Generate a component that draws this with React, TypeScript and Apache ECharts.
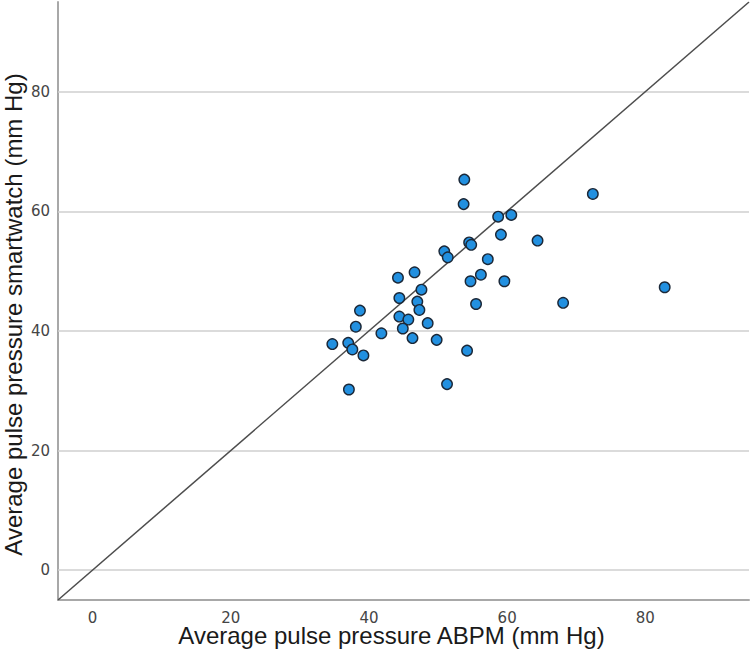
import React, { useEffect, useRef } from "react";
import * as echarts from "echarts";

const xTicks = [0, 20, 40, 60, 80];
const yTicks = [0, 20, 40, 60, 80];
const lineEnds = [-5, 95];

const abpm = [
  53.8, 53.7, 58.7, 60.6, 59.1, 64.4, 54.5, 54.8, 50.9, 51.4, 57.2, 56.2, 54.7,
  59.6, 44.2, 46.6, 47.6, 44.4, 47.0, 47.3, 55.5, 68.1, 38.7, 44.4, 45.7, 48.5,
  38.1, 41.8, 44.9, 46.3, 49.8, 34.7, 37.0, 37.6, 39.2, 54.2, 37.1, 51.3, 72.4,
  82.8,
];
const smartwatch = [
  65.3, 61.2, 59.1, 59.4, 56.1, 55.1, 54.8, 54.4, 53.3, 52.3, 52.0, 49.4, 48.3,
  48.3, 48.9, 49.8, 46.9, 45.5, 44.9, 43.5, 44.5, 44.7, 43.4, 42.4, 41.9, 41.3,
  40.7, 39.6, 40.4, 38.8, 38.5, 37.8, 38.0, 36.9, 35.9, 36.7, 30.2, 31.1, 62.9,
  47.3,
];

const xName = "Average pulse pressure ABPM (mm Hg)";
const yName = "Average pulse pressure smartwatch (mm Hg)";

export default function App() {
  const ref = useRef<HTMLDivElement>(null);
  useEffect(() => {
    if (!ref.current) return;
    const chart = echarts.init(ref.current, null, { renderer: "svg" });
    const tickLabel = {
      color: "#454545",
      fontSize: 15,
      lineHeight: 12,
      fontFamily: "DejaVu Sans",
    };
    const nameStyle = {
      fontSize: 24,
      lineHeight: 20,
      fontFamily: "Liberation Sans",
      color: "#1a1a1a",
    };
    chart.setOption({
      animation: false,
      backgroundColor: "#ffffff",
      grid: {
        left: 58,
        right: 3,
        top: 2,
        bottom: 52,
        containLabel: false,
        outerBoundsMode: "none",
      },
      xAxis: {
        type: "value",
        min: -5,
        max: 95,
        axisLine: { onZero: false, lineStyle: { color: "#a8a8a8", width: 2 } },
        axisTick: { show: false },
        splitLine: { show: false },
        axisLabel: { ...tickLabel, customValues: xTicks, margin: 12 },
        name: xName,
        nameLocation: "middle",
        nameGap: 25,
        nameMoveOverlap: false,
        nameTextStyle: { ...nameStyle, padding: [0, 24, 0, 0] },
      },
      yAxis: {
        type: "value",
        min: -5,
        max: 95,
        axisLine: { onZero: false, lineStyle: { color: "#a8a8a8", width: 2 } },
        axisTick: { show: false },
        splitLine: { show: false },
        axisLabel: { ...tickLabel, customValues: yTicks, margin: 8 },
        name: yName,
        nameLocation: "middle",
        nameGap: 35,
        nameMoveOverlap: false,
        nameTextStyle: { ...nameStyle, padding: [0, 27, 0, 0] },
      },
      series: [
        {
          type: "line",
          data: lineEnds.map((v) => [v, v]),
          symbol: "none",
          showSymbol: false,
          silent: true,
          z: 2,
          lineStyle: { color: "#4d4d4d", width: 1.5 },
          markLine: {
            silent: true,
            z: 1,
            symbol: ["none", "none"],
            label: { show: false },
            lineStyle: { color: "#cfcfcf", width: 1.5, type: "solid" },
            data: yTicks.map((v) => ({ yAxis: v })),
          },
        },
        {
          type: "scatter",
          z: 10,
          data: abpm.map((x, i) => [x, smartwatch[i]]),
          symbol: "circle",
          symbolSize: 10.5,
          itemStyle: {
            color: "#2290e0",
            borderColor: "#1b2838",
            borderWidth: 1.4,
            opacity: 1,
          },
        },
      ],
    });
    return () => chart.dispose();
  }, []);
  return (
    <div
      ref={ref}
      style={{ position: "fixed", left: 0, top: 0, width: 752, height: 652 }}
    />
  );
}
